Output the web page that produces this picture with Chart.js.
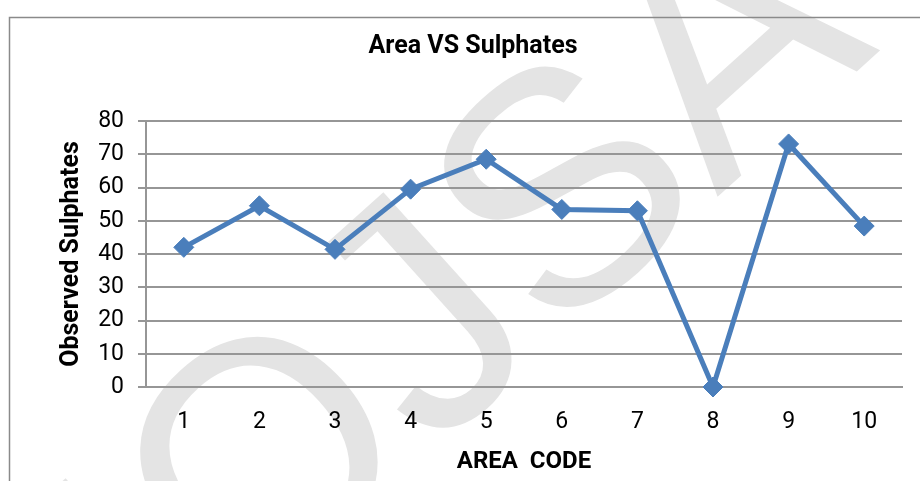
<!DOCTYPE html>
<html>
<head>
<meta charset="utf-8">
<script src="https://cdn.jsdelivr.net/npm/chart.js@4/dist/chart.umd.min.js"></script>
<style>
  html, body { margin: 0; padding: 0; background: #fff; }
  #wrap { width: 920px; height: 481px; position: relative; }
</style>
</head>
<body>
<div id="wrap"><canvas id="sulphChart" width="920" height="481"></canvas></div>
<script>
// ===== DATA =====
const areaCodes = ['1','2','3','4','5','6','7','8','9','10'];
const sulphates = [42, 54.5, 41.4, 59.5, 68.5, 53.4, 53, 0, 73.1, 48.4];
const yTicks = [0, 10, 20, 30, 40, 50, 60, 70, 80];
const chartTitle = 'Area VS Sulphates';
const xTitle = 'AREA  CODE';
const yTitle = 'Observed Sulphates';
const watermark = 'IOJSA';

const blue = '#4A7EBB';
const gridGray = '#969696';
const font = 'Roboto';

// faint watermark + outer chart frame, drawn under everything
const backdrop = {
  id: 'backdrop',
  beforeDraw(chart) {
    const c = chart.ctx;
    c.save();
    c.fillStyle = '#fff';
    c.fillRect(0, 0, chart.width, chart.height);
    c.translate(172, 688);
    c.rotate(-42 * Math.PI / 180);
    c.font = '330px "Liberation Sans"';
    c.fillStyle = '#e4e4e4';
    c.textAlign = 'left';
    c.textBaseline = 'alphabetic';
    c.fillText(watermark, 0, 0);
    c.restore();

    c.save();
    c.strokeStyle = '#8a8a8a';
    c.lineWidth = 1.5;
    c.beginPath();
    c.moveTo(9.5, chart.height);
    c.lineTo(9.5, 17.5);
    c.lineTo(chart.width, 17.5);
    c.stroke();
    c.restore();
  },
  // title sits a bit right of the canvas centre, like the source
  afterDraw(chart) {
    const c = chart.ctx;
    c.save();
    c.font = 'bold 25px ' + font;
    c.fillStyle = '#000';
    c.textAlign = 'center';
    c.textBaseline = 'middle';
    c.fillText(chartTitle, 473, 47);
    c.restore();
  }
};

new Chart(document.getElementById('sulphChart'), {
  type: 'line',
  data: {
    labels: areaCodes,
    datasets: [{
      data: sulphates,
      borderColor: blue,
      backgroundColor: blue,
      borderWidth: 5,
      tension: 0,
      clip: false,
      pointStyle: 'rectRot',
      pointRadius: 10,
      pointHoverRadius: 10,
      pointBackgroundColor: blue,
      pointBorderColor: blue,
      pointBorderWidth: 1
    }]
  },
  options: {
    responsive: false,
    animation: false,
    layout: { padding: { left: 0, right: 18, top: 121, bottom: 0 } },
    plugins: {
      legend: { display: false },
      tooltip: { enabled: false },
      title: { display: false }
    },
    scales: {
      x: {
        offset: true,
        grid: { display: false, drawTicks: false },
        border: { display: true, color: gridGray, width: 2 },
        ticks: { color: '#000', font: { family: font, size: 23 }, padding: 21 },
        title: {
          display: true,
          text: xTitle,
          color: '#000',
          font: { family: font, size: 24, weight: 'bold', lineHeight: 1.2 },
          padding: { top: 5, bottom: 5 }
        },
        afterFit: s => { s.height = 94; }
      },
      y: {
        min: 0,
        max: 80,
        afterBuildTicks: s => { s.ticks = yTicks.map(v => ({ value: v })); },
        grid: { color: gridGray, lineWidth: 2, drawTicks: true, tickLength: 8 },
        border: { display: true, color: gridGray, width: 2 },
        ticks: { color: '#000', font: { family: font, size: 23 }, padding: 14 },
        title: {
          display: true,
          text: yTitle,
          color: '#000',
          font: { family: font, size: 25, weight: 'bold', lineHeight: 1.2 },
          padding: { top: 57, bottom: 0 }
        },
        afterFit: s => { s.width = 146; }
      }
    }
  },
  plugins: [backdrop]
});
</script>
</body>
</html>
